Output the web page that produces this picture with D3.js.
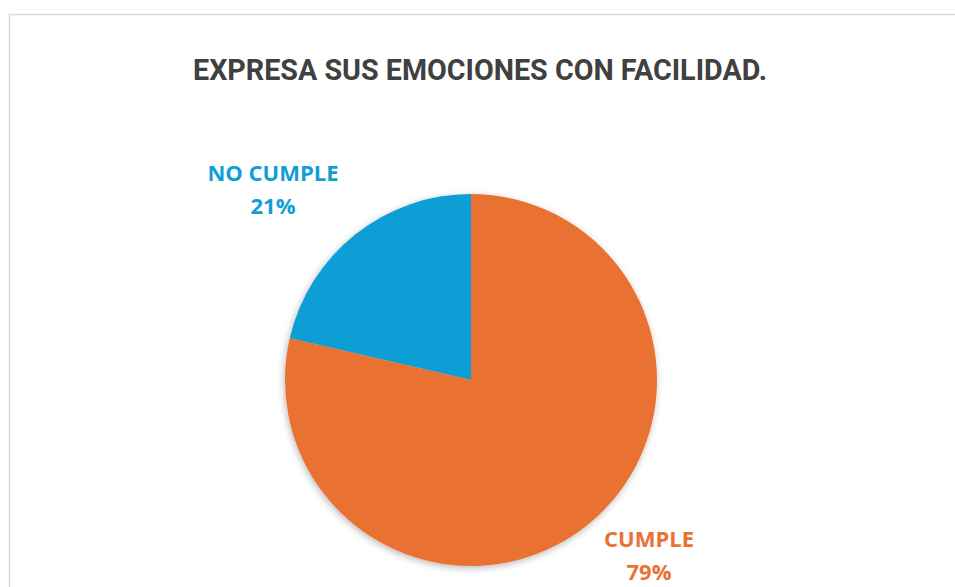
<!DOCTYPE html>
<html>
<head>
<meta charset="utf-8">
<script src="https://cdn.jsdelivr.net/npm/d3@7"></script>
<style>
  body { margin: 0; background: #fff; }
  svg { display: block; }
</style>
</head>
<body>
<div id="chart"></div>
<script>
var categories = ["NO CUMPLE", "CUMPLE"];
var values = [21.4, 78.6];
var colors = ["#0F9ED5", "#E97132"];
var title = "EXPRESA SUS EMOCIONES CON FACILIDAD.";

var width = 955,
    height = 587,
    cx = 471,
    cy = 380,
    radius = 186;

// label anchors relative to the pie centre (Excel "best fit" placement)
var labelOffset = [[-198, -199], [178, 167]];

var total = d3.sum(values);
var pct = d3.format(".0%");

var svg = d3.select("#chart")
    .append("svg")
    .attr("width", width)
    .attr("height", height);

var defs = svg.append("defs");
var shadow = defs.append("filter")
    .attr("id", "shadow")
    .attr("x", "-20%").attr("y", "-20%")
    .attr("width", "140%").attr("height", "140%");
shadow.append("feDropShadow")
    .attr("dx", -1).attr("dy", 2)
    .attr("stdDeviation", 3.5)
    .attr("flood-color", "#000")
    .attr("flood-opacity", 0.28);

// chart area border
svg.append("rect")
    .attr("x", 9.5)
    .attr("y", 14.5)
    .attr("width", 960)
    .attr("height", 600)
    .attr("fill", "#fff")
    .attr("stroke", "#d9d9d9")
    .attr("stroke-width", 1.5);

svg.append("text")
    .attr("x", 480)
    .attr("y", 80)
    .attr("text-anchor", "middle")
    .attr("textLength", 574)
    .attr("lengthAdjust", "spacingAndGlyphs")
    .style("font-family", "Roboto, 'Open Sans', sans-serif")
    .style("font-weight", "bold")
    .style("font-size", "30px")
    .style("fill", "#404040")
    .text(title);

var pie = d3.pie()
    .sort(null)
    .startAngle(0)
    .endAngle(-2 * Math.PI)
    .value(function (d) { return d; });

var arc = d3.arc()
    .innerRadius(0)
    .outerRadius(radius);

var g = svg.append("g")
    .attr("transform", "translate(" + cx + "," + cy + ")");

var arcs = pie(values);

g.append("g")
    .attr("filter", "url(#shadow)")
    .selectAll("path")
    .data(arcs)
    .enter().append("path")
    .attr("d", arc)
    .style("fill", function (d, i) { return colors[i]; });

var labels = g.selectAll(".label")
    .data(arcs)
    .enter().append("text")
    .attr("class", "label")
    .attr("text-anchor", "middle")
    .attr("transform", function (d, i) {
        return "translate(" + labelOffset[i][0] + "," + labelOffset[i][1] + ")";
    })
    .style("font-family", "'Open Sans', 'Noto Sans', sans-serif")
    .style("font-weight", "bold")
    .style("font-size", "22px")
    .style("fill", function (d, i) { return colors[i]; });

labels.append("tspan")
    .attr("x", 0)
    .attr("y", 0)
    .text(function (d, i) { return categories[i]; });

labels.append("tspan")
    .attr("x", 0)
    .attr("y", 33)
    .text(function (d) { return pct(d.data / total); });
</script>
</body>
</html>
